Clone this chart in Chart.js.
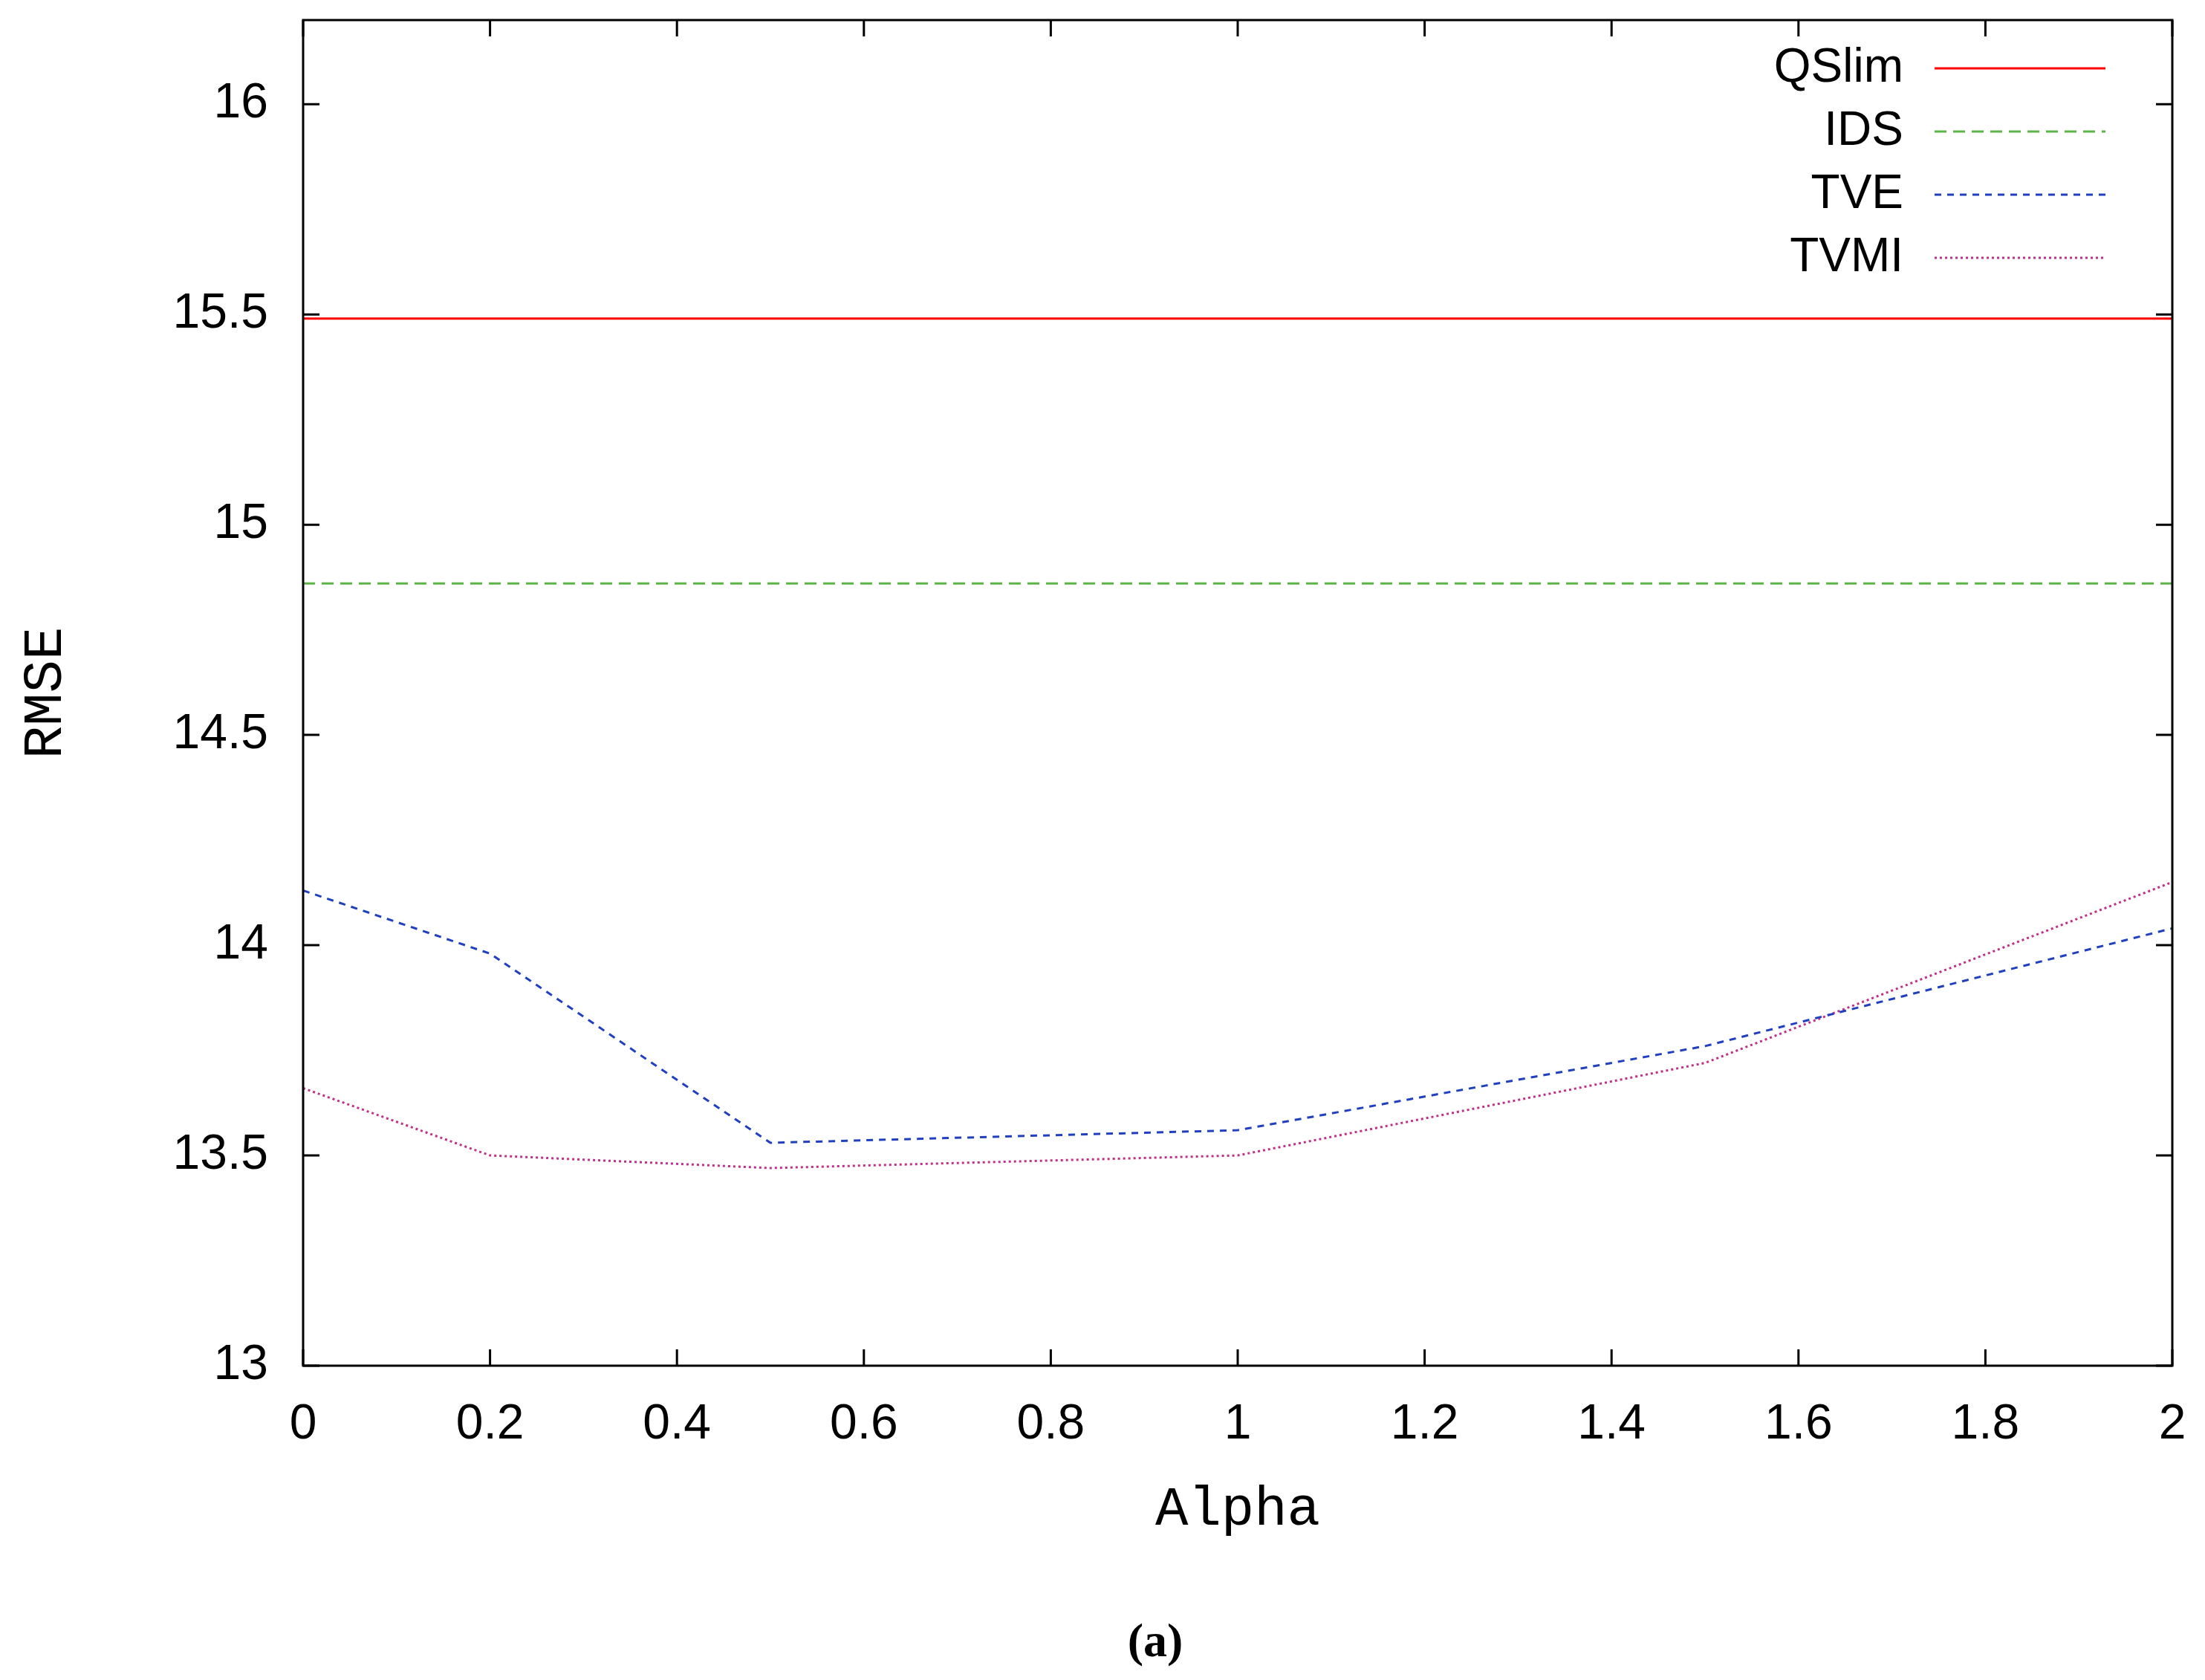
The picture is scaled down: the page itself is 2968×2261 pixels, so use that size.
<!DOCTYPE html>
<html>
<head>
<script src="https://cdn.jsdelivr.net/npm/chart.js@4"></script>
<style>
  body { margin: 0; background: #fff; }
  #wrap { width: 2968px; height: 2261px; }
</style>
</head>
<body>
<div id="wrap"><canvas id="myChart"></canvas></div>
<script>
const alphas = [0, 0.2, 0.5, 1, 1.5, 2]
const qslim = [15.49, 15.49, 15.49, 15.49, 15.49, 15.49]
const ids = [14.86, 14.86, 14.86, 14.86, 14.86, 14.86]
const tve = [14.13, 13.98, 13.53, 13.56, 13.76, 14.04]
const tvmi = [13.66, 13.50, 13.47, 13.50, 13.72, 14.15]
const xTicks = [0, 0.2, 0.4, 0.6, 0.8, 1, 1.2, 1.4, 1.6, 1.8, 2]
const yTicks = [13, 13.5, 14, 14.5, 15, 15.5, 16]

function pts(ys) {
  return alphas.map((x, i) => ({ x: x, y: ys[i] }))
}

// gnuplot-style frame, inward ticks, tick labels, legend inside top right, caption
const framePlugin = {
  id: 'frame',
  afterDraw(chart) {
    const ctx = chart.ctx
    const a = chart.chartArea
    const xs = chart.scales.x, ys = chart.scales.y
    ctx.save()
    ctx.strokeStyle = '#000'
    ctx.lineWidth = 3
    ctx.strokeRect(a.left, a.top, a.right - a.left, a.bottom - a.top)
    const t = 22
    ctx.beginPath()
    xTicks.forEach(v => {
      const p = xs.getPixelForValue(v)
      ctx.moveTo(p, a.bottom); ctx.lineTo(p, a.bottom - t)
      ctx.moveTo(p, a.top); ctx.lineTo(p, a.top + t)
    })
    yTicks.forEach(v => {
      const p = ys.getPixelForValue(v)
      ctx.moveTo(a.left, p); ctx.lineTo(a.left + t, p)
      ctx.moveTo(a.right, p); ctx.lineTo(a.right - t, p)
    })
    ctx.stroke()

    ctx.fillStyle = '#000'
    ctx.font = '66px "Liberation Sans", Arial, sans-serif'
    ctx.textBaseline = 'middle'
    ctx.textAlign = 'center'
    xTicks.forEach(v => ctx.fillText(String(v), xs.getPixelForValue(v), 1918))
    ctx.textAlign = 'right'
    yTicks.forEach(v => ctx.fillText(String(v), 361, ys.getPixelForValue(v)))

    // legend
    ctx.font = '64px "Liberation Sans", Arial, sans-serif'
    chart.data.datasets.forEach((ds, i) => {
      const y = 92 + i * 85
      ctx.fillStyle = '#000'
      ctx.fillText(ds.label, 2562, y)
      ctx.strokeStyle = ds.borderColor
      ctx.lineWidth = ds.borderWidth
      ctx.setLineDash(ds.borderDash || [])
      ctx.beginPath()
      ctx.moveTo(2604, y); ctx.lineTo(2834, y)
      ctx.stroke()
    })
    ctx.setLineDash([])

    ctx.font = 'bold 64px "Liberation Serif", "Times New Roman", serif'
    ctx.textAlign = 'center'
    ctx.fillStyle = '#000'
    ctx.fillText('(a)', 1555, 2212)
    ctx.restore()
  }
}

const ctx = document.getElementById('myChart').getContext('2d')
const myChart = new Chart(ctx, {
  type: 'line',
  data: {
    datasets: [
      { label: 'QSlim', data: pts(qslim), borderColor: '#ff0000', borderWidth: 3, pointRadius: 0 },
      { label: 'IDS', data: pts(ids), borderColor: '#5cb548', borderWidth: 3, borderDash: [16, 9], pointRadius: 0 },
      { label: 'TVE', data: pts(tve), borderColor: '#2040c0', borderWidth: 3, borderDash: [9, 8], pointRadius: 0 },
      { label: 'TVMI', data: pts(tvmi), borderColor: '#c0308b', borderWidth: 3, borderDash: [3, 4], pointRadius: 0 }
    ]
  },
  options: {
    responsive: true,
    maintainAspectRatio: false,
    animation: false,
    layout: { padding: { top: 27, right: 44, bottom: 180, left: 14 } },
    plugins: { legend: { display: false }, tooltip: { enabled: false } },
    scales: {
      x: {
        type: 'linear', min: 0, max: 2,
        afterFit: s => { s.height = 243 },
        grid: { display: false },
        border: { display: false },
        ticks: { display: false },
        title: {
          display: true, text: 'Alpha', color: '#000',
          font: { size: 74, family: '"Liberation Mono", "Courier New", monospace' }
        }
      },
      y: {
        min: 13, max: 16.2,
        afterFit: s => { s.width = 394 },
        grid: { display: false },
        border: { display: false },
        ticks: { display: false },
        title: {
          display: true, text: 'RMSE', color: '#000',
          font: { size: 74, family: '"Liberation Mono", "Courier New", monospace' }
        }
      }
    }
  },
  plugins: [framePlugin]
})
</script>
</body>
</html>
